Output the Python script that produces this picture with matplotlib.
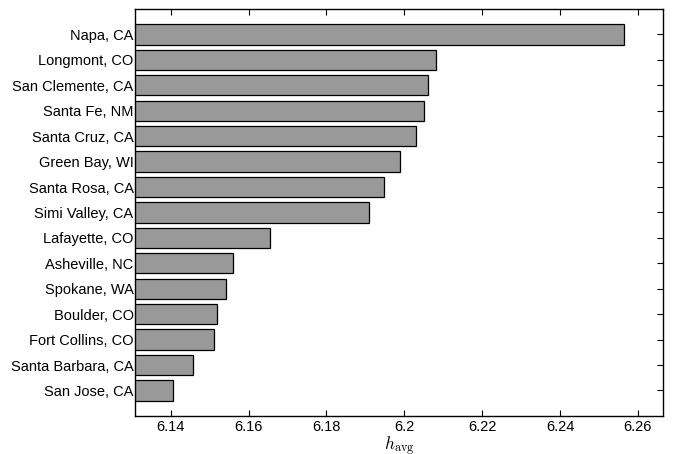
import numpy as np
import matplotlib
matplotlib.use("Agg")
import matplotlib.pyplot as plt

plt.rcParams['font.family'] = ['Liberation Sans', 'DejaVu Sans']
plt.rcParams['mathtext.fontset'] = 'cm'

# cities, top to bottom
cities = ['Napa, CA', 'Longmont, CO', 'San Clemente, CA', 'Santa Fe, NM',
          'Santa Cruz, CA', 'Green Bay, WI', 'Santa Rosa, CA', 'Simi Valley, CA',
          'Lafayette, CO', 'Asheville, NC', 'Spokane, WA', 'Boulder, CO',
          'Fort Collins, CO', 'Santa Barbara, CA', 'San Jose, CA']
h_avg = [6.2564, 6.2081, 6.2060, 6.2050, 6.2030, 6.1988, 6.1947, 6.1909,
         6.1654, 6.1559, 6.1541, 6.1518, 6.1510, 6.1457, 6.1405]
xticks = [6.14, 6.16, 6.18, 6.20, 6.22, 6.24, 6.26]
xticklabels = ['6.14', '6.16', '6.18', '6.2', '6.22', '6.24', '6.26']

fig = plt.figure(figsize=(6.77, 4.54), dpi=100)
ax = fig.add_axes([0.1994, 0.0840, 0.7796, 0.8961])
ax.set_axisbelow(True)

y = np.arange(len(cities))
ax.barh(y, h_avg, height=0.8, color='#999999', edgecolor='black', linewidth=0.9)

ax.set_xlim(6.1308, 6.2664)
ax.set_ylim(len(cities), -1)
ax.set_yticks(y)
ax.set_yticklabels(cities, fontsize=10.5)
ax.set_xticks(xticks)
ax.set_xticklabels(xticklabels, fontsize=10.5)
ax.tick_params(direction='in', top=True, right=True, length=4, width=0.8, pad=3)
ax.tick_params(axis='y', pad=1)
for s in ax.spines.values():
    s.set_linewidth(1.0)
    s.set_zorder(3)

ax.set_xlabel(r'$h_{\rm avg}$', fontsize=12.5, labelpad=0)

fig.savefig('out.png', dpi=100)
